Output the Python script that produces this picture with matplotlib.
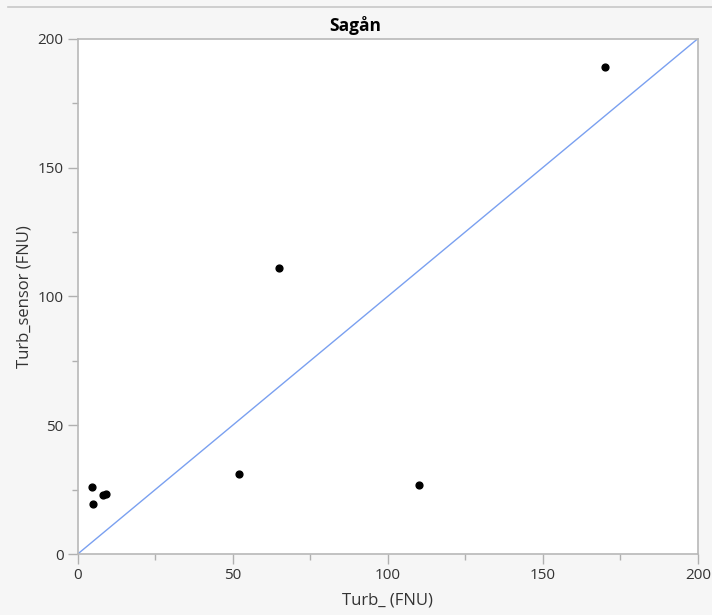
import matplotlib.pyplot as plt
from matplotlib.lines import Line2D

# data
turb_lab = [4.6, 4.9, 8.3, 9.1, 52, 65, 110, 170]
turb_sensor = [26, 19.5, 22.8, 23.2, 31, 111, 27, 189]
ref_line = [0, 200]

plt.rcParams['font.family'] = ['Open Sans', 'DejaVu Sans']

fig = plt.figure(figsize=(7.12, 6.15), dpi=100, facecolor='#f6f6f6')
ax = fig.add_axes([0.109, 0.099, 0.871, 0.838])
ax.set_facecolor('white')

ax.plot(ref_line, ref_line, color='#7aa0f0', lw=1.0, zorder=2)
ax.scatter(turb_lab, turb_sensor, s=24, color='black', zorder=3)

ax.set_xlim(0, 200)
ax.set_ylim(0, 200)
ax.set_xticks([0, 50, 100, 150, 200])
ax.set_yticks([0, 50, 100, 150, 200])
ax.set_xticks([25, 75, 125, 175], minor=True)
ax.set_yticks([25, 75, 125, 175], minor=True)
ax.tick_params(which='major', length=7, width=1, color='#b0b0b0', labelsize=11, labelcolor='#333333', pad=3)
ax.tick_params(which='minor', length=4, width=1, color='#b0b0b0')
for s in ax.spines.values():
    s.set_color('#b8b8b8')
    s.set_linewidth(1.2)

ax.set_xlabel('Turb_ (FNU)', fontsize=12, color='#333333', labelpad=7)
ax.set_ylabel('Turb_sensor (FNU)', fontsize=12, color='#333333', labelpad=4)

fig.text(0.499, 0.958, 'Sagån', ha='center', va='center', fontsize=12.5, fontweight='bold', color='black')
fig.add_artist(Line2D([0.011, 1.0], [0.988, 0.988], color='#c8c8c8', lw=1.2))

fig.savefig('out.png', dpi=100, facecolor=fig.get_facecolor())
